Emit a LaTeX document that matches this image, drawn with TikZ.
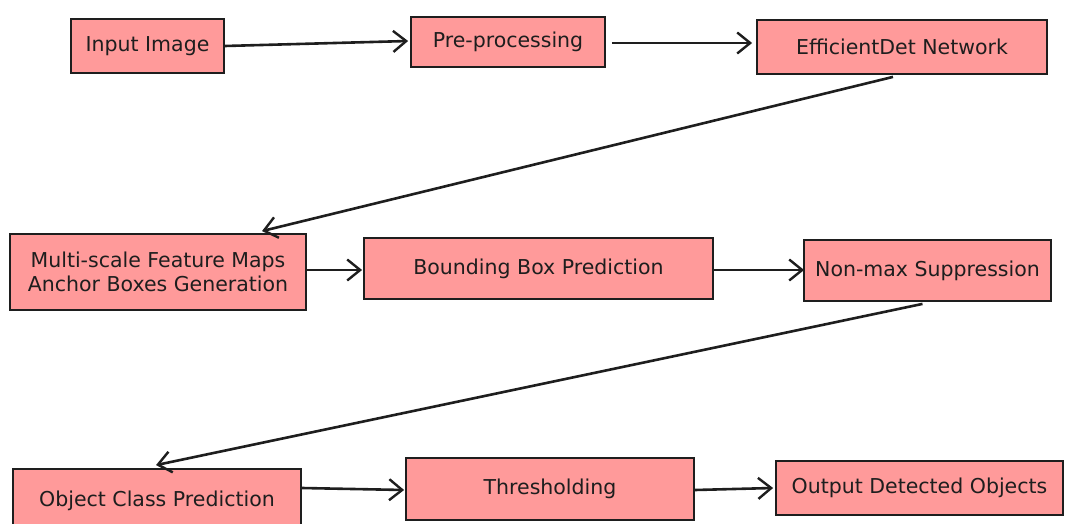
\documentclass[tikz,border=0pt]{standalone}
\usepackage{fontspec}
\setmainfont{DejaVu Sans}
\usetikzlibrary{arrows.meta}
\definecolor{boxfill}{HTML}{FF9A9A}
\definecolor{ink}{HTML}{1E1E1E}
\tikzset{
  stage/.style={draw=ink, fill=boxfill, line width=1.8pt, inner sep=0pt,
    text=ink, font=\fontsize{20.5}{24}\selectfont, align=center},
  flow/.style={draw=ink, line width=2.6pt,
    -{Straight Barb[length=13pt,width=21pt,line width=2.4pt]}}
}
\begin{document}
\begin{tikzpicture}[x=1pt,y=-1pt]
  \useasboundingbox (0,0) rectangle (1068,524);

  % first row
  \node[stage, minimum width=153, minimum height=54] (in)  at (147.5,46) {Input Image};
  \node[stage, minimum width=194, minimum height=50] (pre) at (508,42)   {Pre-processing};
  \node[stage, minimum width=290, minimum height=54] (eff) at (902,47)   {EfficientDet Network};

  % second row
  \node[stage, minimum width=296, minimum height=76] (msf) at (158,272)
    {Multi-scale Feature Maps\\Anchor Boxes Generation};
  \node[stage, minimum width=349, minimum height=61] (bbp) at (538.5,268.5) {Bounding Box Prediction};
  \node[stage, minimum width=247, minimum height=61] (nms) at (927.5,270.5) {Non-max Suppression};

  % third row
  \node[stage, minimum width=288, minimum height=64] (ocp) at (157,501) {Object Class Prediction};
  \node[stage, minimum width=288, minimum height=62] (thr) at (550,489) {Thresholding};
  \node[stage, minimum width=287, minimum height=54] (out) at (919.5,488) {Output Detected Objects};

  % connectors
  \draw[flow] (in.east) -- ([xshift=-2pt,yshift=1pt]pre.west);
  \draw[flow] ([xshift=6pt,yshift=-1pt]pre.east) -- ([xshift=-4pt,yshift=4pt]eff.west);
  \draw[flow] ([xshift=-9pt,yshift=-2pt]eff.south) -- ([xshift=104pt,yshift=2pt]msf.north);
  \draw[flow] ([yshift=2pt]msf.east) -- ([xshift=-1pt,yshift=-1.5pt]bbp.west);
  \draw[flow] ([yshift=-1.5pt]bbp.east) -- ([xshift=1pt,yshift=0.5pt]nms.west);
  \draw[flow] ([xshift=-5pt,yshift=-2pt]nms.south) -- ([xshift=-1pt,yshift=3pt]ocp.north);
  \draw[flow] ([yshift=13pt]ocp.east) -- ([xshift=-1pt,yshift=-1pt]thr.west);
  \draw[flow] ([yshift=-1pt]thr.east) -- ([xshift=-2pt]out.west);
\end{tikzpicture}
\end{document}
